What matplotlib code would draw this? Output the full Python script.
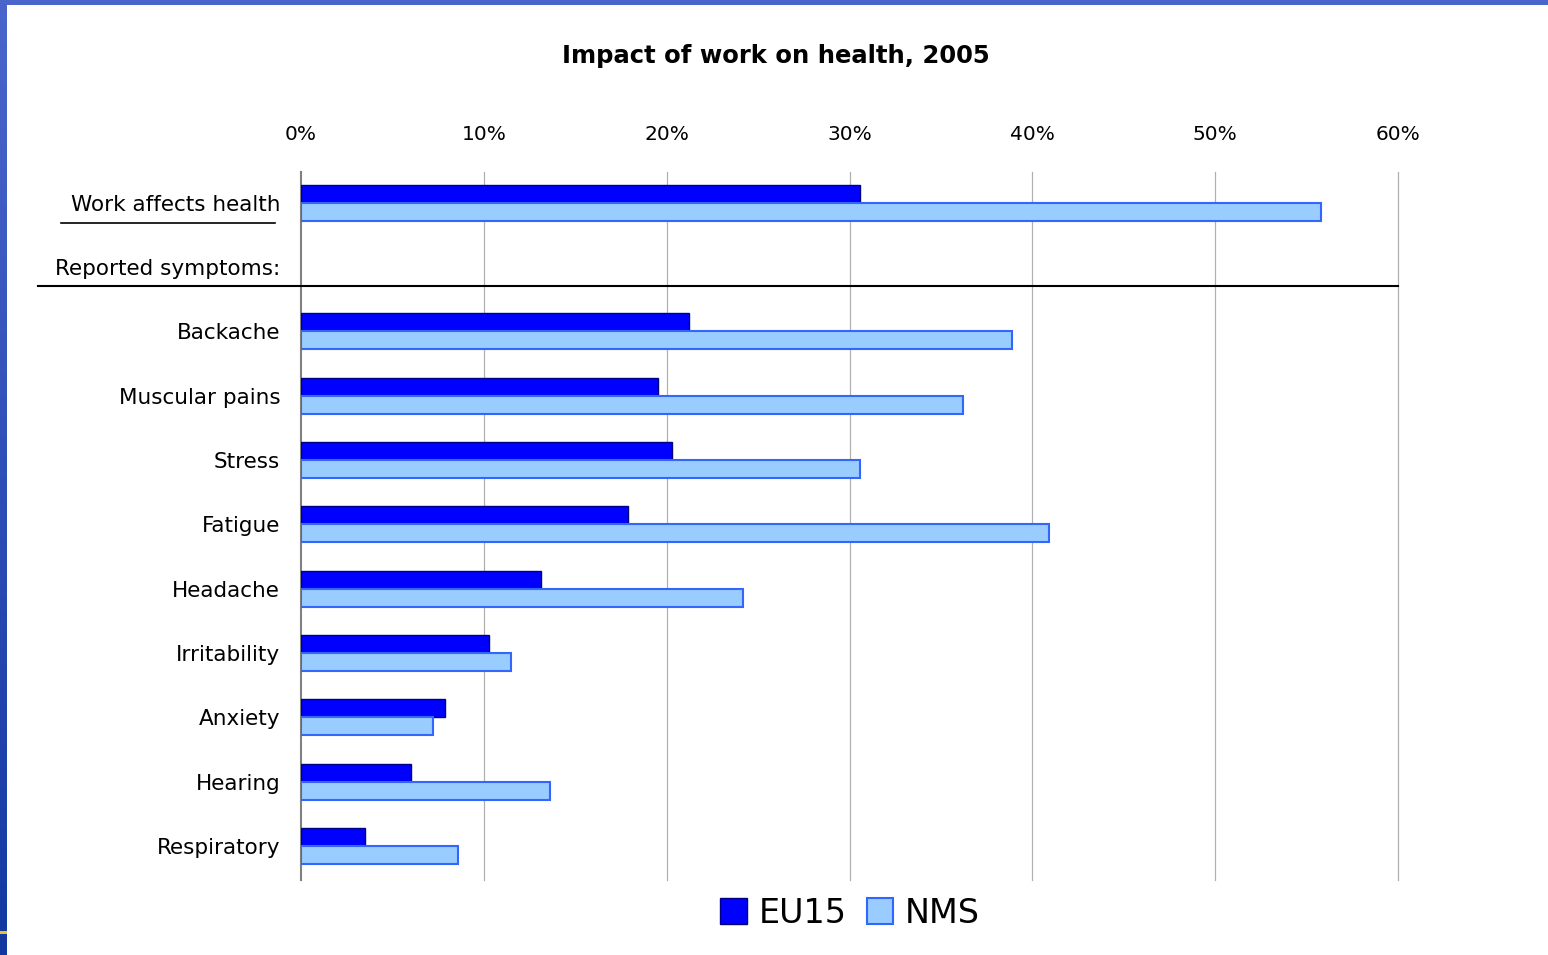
import matplotlib
matplotlib.use("Agg")
import matplotlib.pyplot as plt
import numpy as np
from matplotlib.lines import Line2D
from matplotlib.patches import Rectangle

plt.rcParams["font.family"] = ["DejaVu Sans"]

categories = ["Work affects health", "Reported symptoms:", "Backache", "Muscular pains",
              "Stress", "Fatigue", "Headache", "Irritability", "Anxiety", "Hearing",
              "Respiratory"]
eu15 = [30.6, np.nan, 21.2, 19.5, 20.3, 17.9, 13.1, 10.3, 7.9, 6.0, 3.5]
nms = [55.8, np.nan, 38.9, 36.2, 30.6, 40.9, 24.2, 11.5, 7.2, 13.6, 8.6]
ticks = [0, 10, 20, 30, 40, 50, 60]

fig = plt.figure(figsize=(15.48, 9.55), dpi=100)
fig.patch.set_facecolor("white")

# decorative slide frame
band = fig.add_axes([0, 0, 7 / 1548, 1])
grad = np.linspace(0, 1, 256).reshape(-1, 1)
band.imshow(grad, aspect="auto", cmap=matplotlib.colors.LinearSegmentedColormap.from_list(
    "b", ["#4a66cc", "#1238a0"]), extent=[0, 1, 0, 1], origin="upper")
band.axis("off")
fig.patches.append(Rectangle((0, 1 - 5 / 955), 1, 5 / 955, transform=fig.transFigure,
                             facecolor="#4a66cc", edgecolor="none", zorder=5))
fig.patches.append(Rectangle((0, (955 - 934) / 955), 7 / 1548, 3 / 955, transform=fig.transFigure,
                             facecolor="#e8c030", edgecolor="none", zorder=6))

ax = fig.add_axes([301 / 1548, 75 / 955, 1097 / 1548, 708 / 955])
y = np.arange(len(categories))
h = 0.28
ax.barh(y - h / 2, eu15, height=h, color="#0000ff", edgecolor="#000080", linewidth=1, zorder=3, label="EU15")
ax.barh(y + h / 2, nms, height=h, color="#99ccff", edgecolor="#3366ff", linewidth=1.5, zorder=3, label="NMS")

ax.set_xlim(0, 60)
ax.set_ylim(10.53, -0.48)
ax.set_xticks(ticks)
ax.set_xticklabels([f"{t}%" for t in ticks], fontsize=14.5)
ax.xaxis.tick_top()
ax.tick_params(axis="x", length=0, pad=20)
ax.set_yticks(y)
ax.set_yticklabels(categories, fontsize=15.5)
ax.tick_params(axis="y", length=0, pad=15)
for t in ticks[1:]:
    ax.axvline(t, color="#b0b0b0", linewidth=0.9, zorder=0, clip_on=False)
for s in ["top", "right", "bottom"]:
    ax.spines[s].set_visible(False)
ax.spines["left"].set_color("#808080")
ax.spines["left"].set_linewidth(1.5)

# separator line and underline
ax.add_line(Line2D([-14.4, 60], [1.30, 1.30], color="black", linewidth=1.5, clip_on=False, zorder=4))
ax.add_line(Line2D([-13.1, -1.4], [0.31, 0.31], color="black", linewidth=1.2, clip_on=False, zorder=4))

fig.text(0.5015, 1 - 56 / 955, "Impact of work on health, 2005", ha="center", va="center",
         fontsize=17.5, fontweight="bold")

leg = ax.legend(loc="center", bbox_to_anchor=(850 / 1548, 1 - 913 / 955), bbox_transform=fig.transFigure,
                ncol=2, frameon=False, fontsize=24, handlelength=0.8, handleheight=0.8,
                handletextpad=0.35, columnspacing=0.6)

fig.savefig("out.png", dpi=100)
